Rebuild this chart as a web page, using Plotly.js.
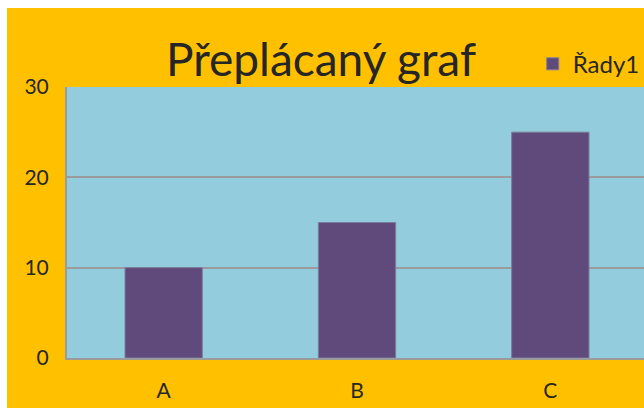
<!DOCTYPE html>
<html>
<head>
<meta charset="utf-8">
<script src="https://cdn.plot.ly/plotly-3.0.1.min.js"></script>
<style>
html,body{margin:0;padding:0;background:#ffffff;overflow:hidden;width:644px;height:408px;}
#chart{position:absolute;left:7px;top:8px;width:660px;height:400px;}
</style>
</head>
<body>
<div id="chart"></div>
<script>
const categories = ["A", "B", "C"];
const values = [10, 15, 25];
const seriesName = "Řady1";
const titleText = "Přeplácaný graf";
const yTicks = [0, 10, 20, 30];

const font = "Lato, 'Open Sans', sans-serif";
const trace = {
  type: "bar",
  x: categories,
  y: values,
  name: seriesName,
  marker: {color: "#604A7B", line: {color: "#7C7C9E", width: 1}},
  showlegend: true,
  hoverinfo: "none"
};
const layout = {
  width: 660,
  height: 400,
  paper_bgcolor: "#FFC000",
  plot_bgcolor: "#93CDDD",
  margin: {l: 60, r: 20, t: 79, b: 50, pad: 0},
  bargap: 0.6,
  font: {family: font, color: "#262626", size: 21},
  title: {
    text: titleText,
    font: {family: font, size: 46, color: "#262626"},
    xref: "container", x: 0.4758, xanchor: "center",
    yref: "container", y: 0.87, yanchor: "middle"
  },
  showlegend: true,
  legend: {
    x: 0.803, xanchor: "left", y: 1.084, yanchor: "middle",
    yref: "paper",
    bgcolor: "rgba(0,0,0,0)",
    font: {family: font, size: 24, color: "#262626"}
  },
  xaxis: {
    type: "category",
    range: [-0.5, 2.5],
    showgrid: false,
    showline: true, linecolor: "#9B9B9B", linewidth: 2,
    ticks: "", ticklabelstandoff: 13,
    tickfont: {family: font, size: 21, color: "#262626"},
    zeroline: false, fixedrange: true
  },
  yaxis: {
    range: [0, 30],
    tickvals: yTicks,
    showgrid: true, gridcolor: "#9B9B9B", gridwidth: 2,
    showline: true, linecolor: "#9B9B9B", linewidth: 2,
    ticks: "", ticklabelstandoff: 12,
    tickfont: {family: font, size: 21, color: "#262626"},
    zeroline: false, fixedrange: true
  }
};
Plotly.newPlot("chart", [trace], layout, {staticPlot: true, displayModeBar: false});
</script>
</body>
</html>
